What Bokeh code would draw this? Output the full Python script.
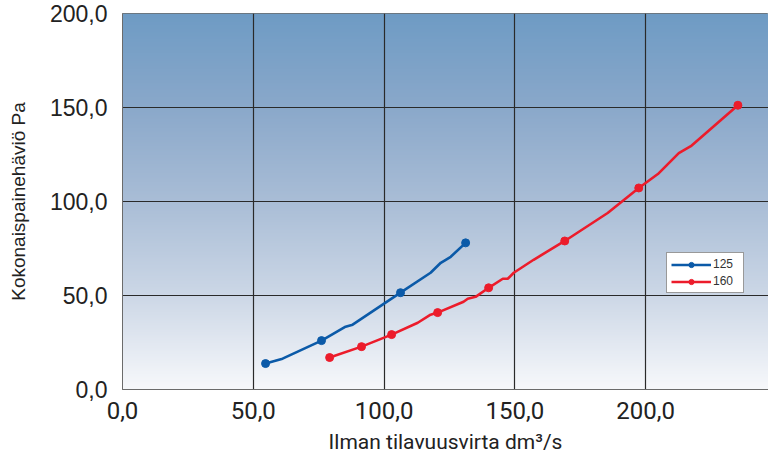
import numpy as np
from bokeh.plotting import figure
from bokeh.models import FixedTicker, Range1d, Legend, LegendItem
from bokeh.embed import file_html
from bokeh.resources import INLINE

# ---- data ----
x_125 = [54.7, 61.2, 76.1, 85.3, 88.0, 106.3, 117.8, 121.7, 125.5, 131.2]
y_125 = [13.8, 16.4, 26.0, 33.4, 34.5, 51.5, 62.1, 67.4, 70.6, 78.0]
mx_125 = [54.7, 76.1, 106.3, 131.2]
my_125 = [13.8, 26.0, 51.5, 78.0]

x_160 = [79.2, 91.4, 102.9, 112.9, 117.8, 120.5, 130.4, 132.0, 135.0, 140.0,
         145.4, 147.3, 149.6, 157.2, 169.1, 185.5, 197.4, 204.7, 212.7, 217.3, 235.3]
y_160 = [17.0, 22.8, 29.2, 35.5, 39.8, 40.9, 46.7, 48.3, 49.3, 54.1,
         58.9, 58.9, 62.1, 69.0, 79.0, 93.9, 107.2, 114.6, 125.7, 129.4, 151.2]
mx_160 = [79.2, 91.4, 102.9, 120.5, 140.0, 169.1, 197.4, 235.3]
my_160 = [17.0, 22.8, 29.2, 40.9, 54.1, 79.0, 107.2, 151.2]

x_ticks = [0, 50, 100, 150, 200]
x_tick_labels = ["0,0", "50,0", "100,0", "150,0", "200,0"]
y_ticks = [0, 50, 100, 150, 200]
y_tick_labels = ["0,0", "50,0", "100,0", "150,0", "200,0"]

x_title = "Ilman tilavuusvirta dm³/s"
y_title = "Kokonaispainehäviö Pa"

X_MAX = 247.0
Y_MAX = 200.0

p = figure(width=768, height=456, output_backend="svg", toolbar_location=None,
           x_range=Range1d(0, X_MAX), y_range=Range1d(0, Y_MAX),
           min_border_left=122, min_border_right=0, min_border_top=13, min_border_bottom=66)
p.background_fill_color = None
p.border_fill_color = "white"
p.outline_line_color = "#6b6b6b"
p.outline_line_width = 1

# ---- gradient background (decoration) ----
stops_y = np.array([0, 50, 100, 150, 200], dtype=float)
stops_c = np.array([[247, 248, 251], [204, 215, 230], [169, 189, 214], [138, 168, 202], [110, 155, 196]], dtype=float)
n = 400
mids = (np.arange(n) + 0.5) / n * Y_MAX
img = np.empty((n, 2), dtype=np.uint32)
view = img.view(dtype=np.uint8).reshape((n, 2, 4))
for i, m in enumerate(mids):
    rgb = [int(round(np.interp(m, stops_y, stops_c[:, k]))) for k in range(3)]
    view[i, :, 0] = rgb[0]
    view[i, :, 1] = rgb[1]
    view[i, :, 2] = rgb[2]
    view[i, :, 3] = 255
p.image_rgba(image=[img], x=0, y=0, dw=X_MAX, dh=Y_MAX, level="image")

# ---- grid ----
p.xgrid.ticker = FixedTicker(ticks=x_ticks)
p.ygrid.ticker = FixedTicker(ticks=y_ticks)
for g in (p.xgrid, p.ygrid):
    g.grid_line_color = "#2a2a2a"
    g.grid_line_width = 1.2
    g.grid_line_alpha = 1.0

# ---- axes ----
p.xaxis.ticker = FixedTicker(ticks=x_ticks)
p.yaxis.ticker = FixedTicker(ticks=y_ticks)
p.xaxis.major_label_overrides = {t: l for t, l in zip(x_ticks, x_tick_labels)}
p.yaxis.major_label_overrides = {t: l for t, l in zip(y_ticks, y_tick_labels)}
for ax in (p.xaxis[0], p.yaxis[0]):
    ax.axis_line_color = "#6b6b6b"
    ax.major_tick_line_color = None
    ax.minor_tick_line_color = None
    ax.major_label_text_color = "#222222"
    ax.axis_label_text_color = "#222222"
    ax.axis_label_text_font_style = "normal"

p.xaxis.major_label_standoff = 6
p.yaxis.major_label_standoff = 9
p.xaxis.major_label_text_font = "'Liberation Sans Narrow', 'Roboto', sans-serif"
p.xaxis.major_label_text_font_size = "24px"
p.yaxis.major_label_text_font = "'Liberation Sans', sans-serif"
p.yaxis.major_label_text_font_size = "23px"

p.xaxis.axis_label = x_title
p.xaxis.axis_label_text_font = "'Liberation Sans Narrow', 'Roboto', sans-serif"
p.xaxis.axis_label_text_font_size = "21px"
p.xaxis.axis_label_standoff = 8
p.yaxis.axis_label = y_title
p.yaxis.axis_label_text_font = "'Liberation Sans', sans-serif"
p.yaxis.axis_label_text_font_size = "19px"
p.yaxis.axis_label_standoff = 18

# ---- series ----
blue = "#0b5aa8"
red = "#ec1c2b"
l1 = p.line(x_125, y_125, line_color=blue, line_width=2.6)
s1 = p.scatter(mx_125, my_125, size=8, fill_color=blue, line_color=blue)
l2 = p.line(x_160, y_160, line_color=red, line_width=2.6)
s2 = p.scatter(mx_160, my_160, size=8, fill_color=red, line_color=red)

legend = Legend(items=[LegendItem(label="125", renderers=[l1, s1]),
                       LegendItem(label="160", renderers=[l2, s2])],
                location=(544, 96))
legend.background_fill_color = "white"
legend.background_fill_alpha = 1.0
legend.border_line_color = "#333333"
legend.border_line_width = 1
legend.label_text_font = "'Liberation Sans', sans-serif"
legend.label_text_font_size = "12px"
legend.label_text_color = "#333333"
legend.glyph_width = 40
legend.glyph_height = 13
legend.label_height = 13
legend.label_standoff = 2
legend.label_width = 26
legend.padding = 4
legend.spacing = 3
legend.margin = 0
p.add_layout(legend, "center")

open("out.html", "w").write(file_html(p, INLINE))
